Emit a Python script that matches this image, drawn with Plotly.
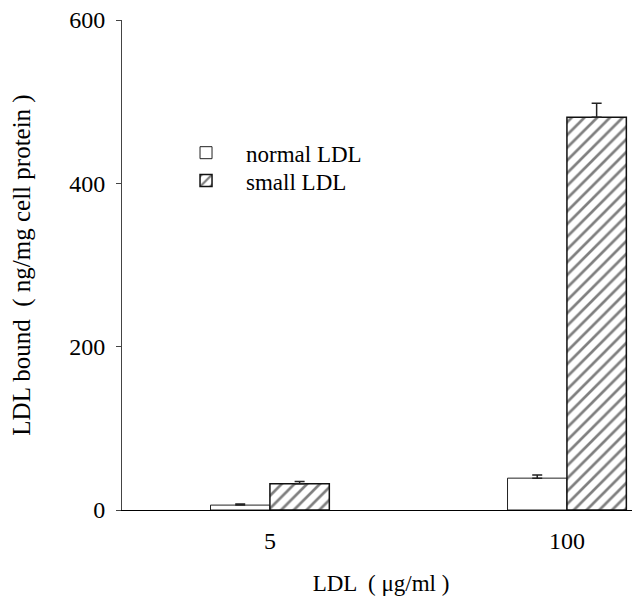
import plotly.graph_objects as go

categories = ["5", "100"]
normal_ldl = [6, 39]
normal_err = [1.5, 4]
small_ldl = [32, 481]
small_err = [3, 17]
y_ticks = [0, 200, 400, 600]

FONT = "Liberation Serif"

fig = go.Figure()
fig.add_trace(go.Bar(
    x=categories, y=normal_ldl, name="normal LDL", legend="legend",
    offset=-0.2, width=0.2,
    marker=dict(color="white", line=dict(color="#222", width=1)),
    error_y=dict(type="data", array=normal_err, arrayminus=[0, 0], symmetric=False,
                 color="#222", thickness=1.5, width=5),
))
fig.add_trace(go.Bar(
    x=categories, y=small_ldl, name="small LDL", legend="legend2",
    offset=0.0, width=0.2,
    marker=dict(color="white", line=dict(color="#111", width=1.5),
                pattern=dict(shape="/", fgcolor="black", bgcolor="white", size=9, solidity=0.3)),
    error_y=dict(type="data", array=small_err, arrayminus=[0, 0], symmetric=False,
                 color="#222", thickness=1.5, width=5),
))

leg_common = dict(xanchor="left", yanchor="top", bgcolor="rgba(0,0,0,0)",
                  font=dict(family=FONT, size=23), itemwidth=70)

# page body has an 8px margin, so the figure is 8px smaller and shifted
fig.update_layout(
    width=632, height=588,
    margin=dict(l=114, r=0, t=12, b=86),
    paper_bgcolor="white", plot_bgcolor="white",
    font=dict(family=FONT, size=23, color="black"),
    showlegend=True,
    legend=dict(x=0.085, y=0.773, **leg_common),
    legend2=dict(x=0.085, y=0.716, **leg_common),
    xaxis=dict(
        type="category", range=[-0.498, 1.246], automargin=False,
        showgrid=False, zeroline=False,
        showline=True, linecolor="black", linewidth=1,
        ticks="", ticklabelstandoff=9,
        tickfont=dict(family=FONT, size=24),
        title=dict(text="LDL  ( μg/ml )", font=dict(family=FONT, size=23), standoff=25),
    ),
    yaxis=dict(
        range=[0, 600], tickvals=y_ticks, automargin=False,
        ticklabeloverflow="allow",
        showgrid=False, zeroline=False,
        showline=True, linecolor="#444", linewidth=1,
        ticks="outside", ticklen=5, tickcolor="#444",
        ticklabelstandoff=6,
        tickfont=dict(family=FONT, size=24),
        title=dict(text="LDL bound  ( ng/mg cell protein )", font=dict(family=FONT, size=25), standoff=33),
    ),
)

fig.write_html("out.html")
